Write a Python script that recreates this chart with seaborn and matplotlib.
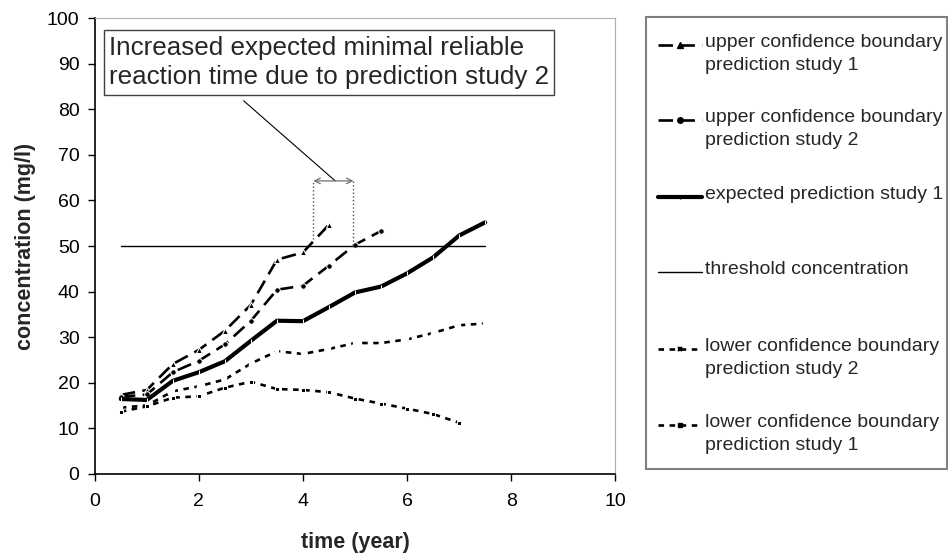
import matplotlib
matplotlib.use("Agg")
import matplotlib.pyplot as plt
import seaborn as sns
import pandas as pd
from matplotlib.lines import Line2D
from matplotlib.patches import Rectangle

# =========================
# dados
# =========================
tempo = [0.5, 1.0, 1.5, 2.0, 2.5, 3.0, 3.5, 4.0, 4.5, 5.0, 5.5, 6.0, 6.5, 7.0, 7.5]

sup_estudo1 = [17.3, 18.4, 24.1, 27.2, 31.4, 37.1, 47.0, 48.6, 54.7]
sup_estudo2 = [16.9, 17.4, 22.3, 24.8, 28.4, 33.6, 40.4, 41.3, 45.7, 50.3, 53.3]
esperado_estudo1 = [16.4, 16.2, 20.4, 22.3, 24.7, 29.2, 33.6, 33.5, 36.6, 39.8,
                    41.1, 44.0, 47.5, 52.3, 55.2]
limiar = [50] * 15
inf_estudo2 = [14.5, 15.0, 18.1, 19.2, 20.7, 24.2, 26.9, 26.3, 27.4, 28.7,
               28.7, 29.5, 30.9, 32.6, 33.0]
inf_estudo1 = [13.6, 14.8, 16.7, 17.0, 18.9, 20.2, 18.6, 18.4, 17.9, 16.5,
               15.4, 14.3, 13.1, 11.2]

rotulos = [
    "upper confidence boundary\nprediction study 1",
    "upper confidence boundary\nprediction study 2",
    "expected prediction study 1",
    "threshold concentration",
    "lower confidence boundary\nprediction study 2",
    "lower confidence boundary\nprediction study 1",
]

texto_anotacao = ("Increased expected minimal reliable\n"
                  "reaction time due to prediction study 2")
seta_x = [4.2, 4.97]
seta_y = 64.3

# =========================
# estilos das séries
# =========================
series = [sup_estudo1, sup_estudo2, esperado_estudo1, limiar, inf_estudo2, inf_estudo1]
estilos = [
    dict(linewidth=1.9, linestyle=(0, (5.5, 2.8)), marker="^", markersize=4.5),
    dict(linewidth=1.9, linestyle=(0, (5.5, 2.8)), marker="o", markersize=4),
    dict(linewidth=3.0, linestyle="-", marker="|", markersize=3),
    dict(linewidth=1.0, linestyle="-", marker=None, markersize=0),
    dict(linewidth=1.9, linestyle=(0, (2.1, 2.1)), marker="x", markersize=3.5, markeredgewidth=1.5),
    dict(linewidth=1.9, linestyle=(0, (2.1, 2.1)), marker="s", markersize=3),
]

sns.set_style("white")
plt.rcParams["font.family"] = ["Liberation Sans", "DejaVu Sans"]

fig = plt.figure(figsize=(9.48, 5.56), dpi=100)
ax = fig.add_axes([0.100, 0.148, 0.549, 0.819])

for valores, estilo in zip(series, estilos):
    df = pd.DataFrame({"tempo": tempo[:len(valores)], "conc": valores})
    sns.lineplot(data=df, x="tempo", y="conc", ax=ax, color="black",
                 sort=False, estimator=None, **estilo)

ax.set_xlim(0, 10)
ax.set_ylim(0, 100)
ax.set_xticks(range(0, 11, 2))
ax.set_yticks(range(0, 101, 10))
ax.tick_params(axis="both", labelsize=14, direction="out", length=5, width=1,
               bottom=True, left=True, colors="black")
ax.tick_params(axis="x", pad=9)
ax.tick_params(axis="y", pad=6)
ax.set_xlabel("time (year)", fontsize=15.5, fontweight="bold", labelpad=16)
ax.set_ylabel("concentration (mg/l)", fontsize=15.5, fontweight="bold", labelpad=8)

for lado in ["top", "right"]:
    ax.spines[lado].set_visible(True)
    ax.spines[lado].set_color("#b0b0b0")
    ax.spines[lado].set_linewidth(0.8)
for lado in ["left", "bottom"]:
    ax.spines[lado].set_color("black")
    ax.spines[lado].set_linewidth(1.2)

# =========================
# anotação
# =========================
ax.text(0.27, 96.2, texto_anotacao, fontsize=18.7, va="top", ha="left",
        linespacing=1.3,
        bbox=dict(boxstyle="square,pad=0.2", facecolor="white", edgecolor="#404040", linewidth=1))
ax.plot([seta_x[0], seta_x[0]], [51.5, seta_y], linestyle=":", color="#505050", linewidth=1)
ax.plot([seta_x[1], seta_x[1]], [50.2, seta_y], linestyle=":", color="#505050", linewidth=1)
ax.annotate("", xy=(seta_x[0], seta_y), xytext=(seta_x[1], seta_y),
            arrowprops=dict(arrowstyle="<->", color="#707070", lw=0.9, shrinkA=0, shrinkB=0))
ax.plot([2.86, 4.62], [81.9, seta_y], color="black", linewidth=0.8)

# =========================
# legenda desenhada à mão
# =========================
fig.add_artist(Rectangle((646 / 948, 1 - 469 / 556), 0.318, (469 - 17) / 556,
                         transform=fig.transFigure, facecolor="white",
                         edgecolor="#808080", linewidth=1.5))
pos_legenda = [45, 120, 197, 272, 349, 425]
for rotulo, estilo, ypx in zip(rotulos, estilos, pos_legenda):
    y = 1 - ypx / 556
    h = Line2D([658 / 948, 680 / 948, 702 / 948], [y, y, y], transform=fig.transFigure,
               color="black", markevery=[1], **estilo)
    fig.add_artist(h)
    fig.text(705 / 948, y + 11 / 556, rotulo, fontsize=14, va="top", ha="left",
             linespacing=1.45)

plt.savefig("out.png", dpi=100)
